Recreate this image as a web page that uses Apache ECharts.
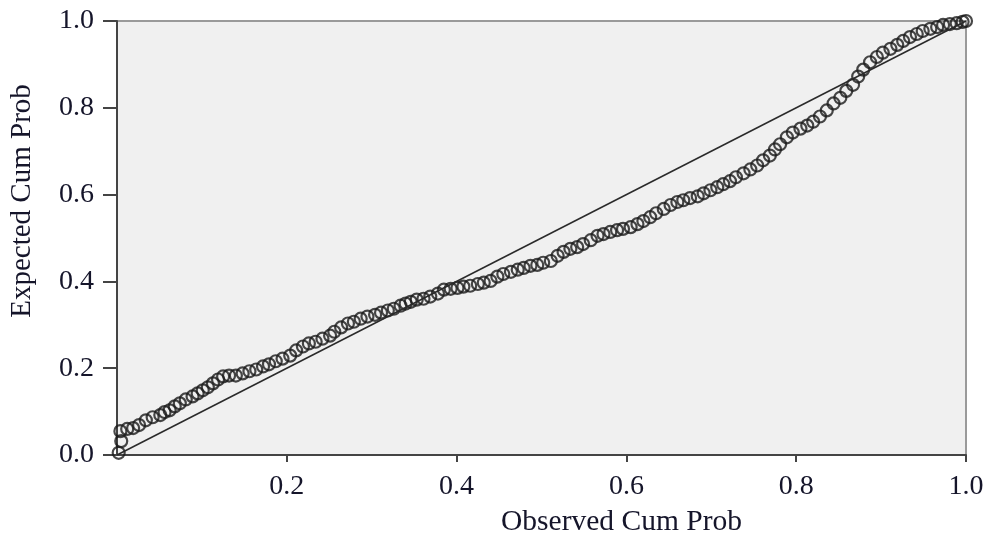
<!DOCTYPE html>
<html>
<head>
<meta charset="utf-8">
<script src="https://cdn.jsdelivr.net/npm/echarts@6/dist/echarts.min.js"></script>
<style>
  html, body { margin: 0; padding: 0; background: #fff; }
  #main { width: 990px; height: 542px; }
</style>
</head>
<body>
<div id="main"></div>
<script>
// P-P plot: observed vs expected cumulative probability
var obsCum = [
  0.002, 0.005, 0.004, 0.012, 0.019, 0.026, 0.034, 0.042, 0.051, 0.056,
  0.062, 0.068, 0.074, 0.081, 0.089, 0.095, 0.101, 0.107, 0.113, 0.119,
  0.125, 0.132, 0.140, 0.148, 0.156, 0.164, 0.172, 0.179, 0.187, 0.195,
  0.204, 0.211, 0.219, 0.226, 0.234, 0.242, 0.251, 0.256, 0.264, 0.272,
  0.279, 0.287, 0.295, 0.304, 0.311, 0.319, 0.326, 0.334, 0.340, 0.346,
  0.353, 0.361, 0.369, 0.378, 0.385, 0.393, 0.401, 0.408, 0.416, 0.425,
  0.432, 0.440, 0.448, 0.455, 0.464, 0.472, 0.479, 0.487, 0.495, 0.502,
  0.511, 0.519, 0.526, 0.534, 0.542, 0.549, 0.558, 0.566, 0.573, 0.581,
  0.589, 0.596, 0.605, 0.613, 0.620, 0.628, 0.635, 0.644, 0.652, 0.660,
  0.667, 0.675, 0.684, 0.691, 0.699, 0.707, 0.714, 0.722, 0.729, 0.738,
  0.746, 0.754, 0.761, 0.769, 0.775, 0.781, 0.789, 0.796, 0.805, 0.813,
  0.820, 0.828, 0.836, 0.844, 0.852, 0.859, 0.867, 0.873, 0.879, 0.887,
  0.895, 0.902, 0.911, 0.919, 0.926, 0.934, 0.942, 0.949, 0.958, 0.966,
  0.973, 0.981, 0.989, 0.996, 1.000
];
var expCum = [
  0.005, 0.032, 0.055, 0.060, 0.062, 0.069, 0.080, 0.087, 0.092, 0.099,
  0.103, 0.112, 0.119, 0.128, 0.135, 0.142, 0.149, 0.156, 0.165, 0.174,
  0.181, 0.183, 0.183, 0.188, 0.193, 0.197, 0.204, 0.209, 0.216, 0.222,
  0.229, 0.241, 0.250, 0.257, 0.261, 0.268, 0.275, 0.284, 0.294, 0.303,
  0.307, 0.314, 0.319, 0.323, 0.328, 0.333, 0.337, 0.344, 0.349, 0.353,
  0.358, 0.360, 0.365, 0.372, 0.381, 0.383, 0.385, 0.388, 0.390, 0.394,
  0.397, 0.401, 0.411, 0.417, 0.422, 0.427, 0.431, 0.436, 0.438, 0.443,
  0.447, 0.459, 0.468, 0.475, 0.479, 0.486, 0.495, 0.505, 0.509, 0.514,
  0.518, 0.521, 0.525, 0.532, 0.539, 0.548, 0.557, 0.567, 0.576, 0.583,
  0.587, 0.592, 0.596, 0.603, 0.610, 0.617, 0.624, 0.631, 0.640, 0.649,
  0.658, 0.667, 0.679, 0.690, 0.704, 0.716, 0.732, 0.743, 0.752, 0.759,
  0.768, 0.780, 0.794, 0.810, 0.823, 0.839, 0.853, 0.872, 0.888, 0.905,
  0.917, 0.927, 0.936, 0.945, 0.954, 0.963, 0.970, 0.977, 0.982, 0.986,
  0.991, 0.993, 0.995, 0.998, 1.000
];
var refLine = [[0, 0], [1, 1]];

var font = 'Liberation Serif';
var textColor = '#15152a';

var points = [];
for (var i = 0; i < obsCum.length; i++) {
  points.push([obsCum[i], expCum[i]]);
}

var chart = echarts.init(document.getElementById('main'));

chart.setOption({
  animation: false,
  grid: {
    left: 116,
    right: 24,
    top: 21,
    bottom: 85,
    show: true,
    backgroundColor: '#f0f0f0',
    borderColor: '#9a9a9a',
    borderWidth: 2
  },
  xAxis: {
    type: 'value',
    min: 0,
    max: 1,
    interval: 0.2,
    name: 'Observed Cum Prob',
    nameLocation: 'middle',
    nameGap: 52,
    nameTextStyle: {
      fontFamily: font,
      fontSize: 29.5,
      color: textColor,
      padding: [0, 0, 0, 160]
    },
    axisLine: { lineStyle: { color: '#444', width: 2 } },
    axisTick: { show: true, length: 7, lineStyle: { color: '#444', width: 2 } },
    axisLabel: {
      showMinLabel: false,
      margin: 18,
      fontFamily: font,
      fontSize: 28,
      color: textColor,
      formatter: function (v) { return v.toFixed(1); }
    },
    splitLine: { show: false }
  },
  yAxis: {
    type: 'value',
    min: 0,
    max: 1,
    interval: 0.2,
    name: 'Expected Cum Prob',
    nameLocation: 'middle',
    nameGap: 80,
    nameTextStyle: {
      fontFamily: font,
      fontSize: 29,
      color: textColor,
      padding: [0, 0, 0, 74]
    },
    axisLine: { lineStyle: { color: '#444', width: 2 } },
    axisTick: { show: true, length: 14, lineStyle: { color: '#444', width: 2 } },
    axisLabel: {
      margin: 23,
      fontFamily: font,
      fontSize: 28,
      color: textColor,
      formatter: function (v) { return v.toFixed(1); }
    },
    splitLine: { show: false }
  },
  series: [{
    type: 'scatter',
    data: points,
    symbol: 'circle',
    symbolSize: 12,
    itemStyle: {
      color: 'rgba(0,0,0,0)',
      borderColor: '#1a1a1a',
      borderWidth: 2.2
    },
    z: 2
  }, {
    type: 'line',
    data: refLine,
    showSymbol: false,
    symbol: 'none',
    lineStyle: { color: '#2a2a2a', width: 1.5 },
    z: 3
  }]
});
</script>
</body>
</html>
